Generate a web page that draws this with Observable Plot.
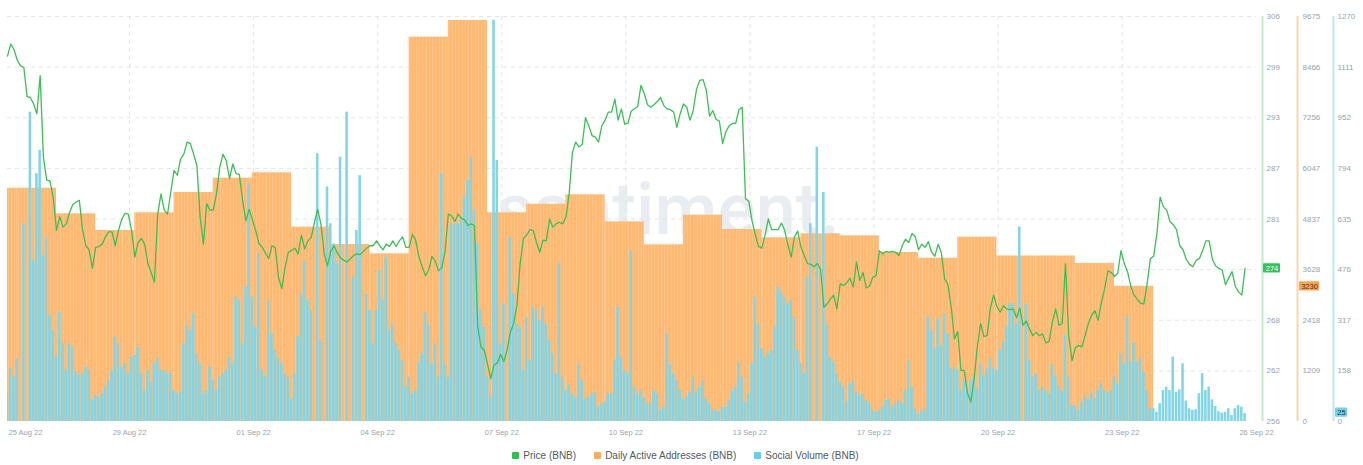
<!DOCTYPE html>
<html><head><meta charset="utf-8">
<script src="https://cdn.jsdelivr.net/npm/d3@7"></script>
<script src="https://cdn.jsdelivr.net/npm/@observablehq/plot@0.6"></script>
<style>
html,body{margin:0;padding:0;background:#fff;}
#wrap{position:relative;width:1363px;height:442px;}
#wrap svg{position:absolute;left:0;top:0;}
#legend{display:flex;justify-content:center;align-items:center;height:20px;padding-top:3px;padding-left:8px;font:10px "Liberation Sans",Arial,sans-serif;color:#4f5964;}
.item{display:flex;align-items:center;margin:0 9px;}
.sw{width:7px;height:7px;border-radius:1px;margin-right:4px;}
</style></head><body>
<div id="wrap"></div>
<div id="legend"></div>
<script>
// ---- data ----
const seriesStart = "2022-08-25T18:00:00Z";   // first 2-hourly sample
const sampleStepHours = 2;
const domainEnd = "2022-09-26T15:00:00Z";

const price = [301.1,302.6,301.9,300.6,299.9,299.7,296.1,296.0,295.2,294.0,298.7,288.6,285.8,285.7,283.7,279.6,281.3,280.0,280.4,281.8,282.8,283.1,283.3,279.6,277.7,277.2,274.9,277.5,277.6,277.9,278.8,279.4,279.4,277.7,279.6,281.0,281.7,281.6,279.6,276.3,278.1,278.6,277.9,275.5,274.4,273.2,281.6,284.1,282.1,281.6,284.3,287.0,286.4,288.4,289.0,290.5,290.3,289.0,287.6,281.2,277.9,282.9,282.1,
282.1,284.1,287.4,289.0,288.2,286.0,287.8,286.6,286.5,283.3,280.8,282.2,280.9,279.6,278.0,277.5,276.8,276.1,277.7,277.5,273.8,272.4,275.0,276.9,277.1,277.4,276.7,279.0,277.3,278.3,278.7,280.6,282.2,280.3,276.7,275.2,277.0,277.7,276.8,276.2,275.9,275.7,276.1,276.5,276.7,276.6,277.0,277.4,277.7,277.7,278.3,277.7,277.2,277.9,277.6,278.3,277.6,278.3,278.8,277.5,277.5,279.1,278.4,
276.3,275.1,274.0,274.7,276.4,275.8,274.6,275.0,277.0,281.6,281.4,280.7,281.6,281.1,280.9,280.2,280.4,280.2,267.7,265.2,264.8,263.1,261.3,263.0,263.2,264.3,263.4,264.8,267.0,268.1,270.3,275.5,278.6,279.0,279.7,279.6,278.1,276.9,278.4,278.3,281.0,280.0,280.4,280.6,280.4,281.2,284.1,289.2,290.5,289.9,290.2,293.5,292.5,291.3,291.1,290.5,292.5,293.2,294.2,294.2,295.8,293.2,
294.6,292.7,292.8,294.3,294.6,294.9,297.5,296.5,295.1,294.8,295.1,295.5,296.0,295.0,294.6,294.5,294.2,292.3,294.0,295.2,294.8,293.2,294.4,297.0,298.1,298.2,296.9,293.7,294.4,293.3,293.1,290.3,291.8,292.5,292.8,292.8,294.5,294.8,283.5,283.2,280.8,279.1,277.6,277.4,279.0,281.0,279.7,279.7,279.7,280.5,279.6,277.8,276.3,278.8,279.5,277.5,276.5,275.5,275.4,275.1,275.5,274.8,270.1,
270.5,271.1,271.6,269.9,273.0,272.8,273.1,273.7,272.6,275.7,273.4,274.4,272.5,272.7,273.8,274.0,277.1,276.7,277.0,276.9,277.0,276.9,276.5,277.7,278.5,278.1,279.2,278.8,277.2,277.9,277.5,278.2,276.9,276.4,277.9,276.8,273.6,272.9,270.2,266.2,267.1,262.3,262.3,259.5,258.4,261.2,265.2,268.1,266.5,266.6,270.0,271.6,270.2,269.5,270.3,269.9,269.8,269.9,268.8,270.0,267.9,268.4,267.4,
266.6,267.0,266.6,266.8,265.7,265.9,268.3,269.9,267.9,268.1,275.5,266.6,263.5,265.1,265.4,265.2,266.6,268.1,269.1,269.7,268.5,270.7,272.4,274.6,274.4,273.9,274.3,277.1,275.5,274.5,272.7,271.6,271.1,270.6,270.5,273.0,276.1,276.4,279.2,283.7,282.5,282.1,280.7,280.3,279.7,277.7,277.2,276.0,275.4,275.1,275.9,276.1,277.1,278.3,278.3,276.0,275.2,274.9,274.7,272.9,273.7,274.5,272.7,272.0,271.6,274.9];

const socialVolume = [87,165,139,197,0,620,0,970,505,777,850,520,578,332,285,202,343,244,160,244,233,155,144,150,170,160,66,82,76,87,108,129,160,265,244,170,181,150,202,207,233,150,97,160,124,181,197,160,160,150,155,97,87,92,244,306,285,338,212,181,87,97,170,
129,97,139,149,160,202,181,390,380,244,422,745,390,296,526,160,139,380,275,223,202,181,150,139,71,150,265,400,505,380,348,0,840,254,0,735,620,557,495,829,0,970,0,453,599,771,0,400,348,244,348,474,380,515,285,306,244,223,191,108,139,87,97,
186,212,343,306,181,244,139,777,181,139,620,620,620,636,704,756,829,662,557,348,296,139,76,1258,819,244,369,0,578,400,306,296,160,327,191,359,348,317,359,306,254,212,150,495,139,97,118,87,76,181,129,71,76,87,92,45,56,61,87,87,191,359,
202,160,150,536,108,87,97,76,56,56,97,87,35,45,275,181,150,129,97,71,76,92,139,92,108,129,71,56,35,35,29,45,45,66,97,108,186,139,61,87,181,390,306,228,202,212,223,296,421,406,390,369,380,327,223,181,150,453,620,0,860,0,718,
306,202,186,150,123,108,61,118,129,92,82,87,66,56,35,29,35,45,66,71,45,56,66,56,97,193,108,40,22,32,37,327,285,228,322,238,338,275,165,170,160,97,129,97,129,139,102,181,144,165,197,165,160,223,249,296,369,369,306,610,0,369,191,
139,150,97,108,97,87,179,143,110,95,270,139,50,50,35,61,82,68,89,71,99,120,99,89,97,141,118,212,181,330,186,246,186,197,155,97,40,40,29,56,97,108,97,202,92,99,181,64,40,35,37,87,150,97,108,68,47,31,26,29,40,19,40,50,45,25];

const daaDays = ["2022-08-25","2022-08-26","2022-08-27","2022-08-28","2022-08-29","2022-08-30","2022-08-31","2022-09-01","2022-09-02","2022-09-03","2022-09-04","2022-09-05","2022-09-06","2022-09-07","2022-09-08","2022-09-09","2022-09-10","2022-09-11","2022-09-12","2022-09-13","2022-09-14","2022-09-15","2022-09-16","2022-09-17","2022-09-18","2022-09-19","2022-09-20","2022-09-21","2022-09-22","2022-09-23"];
const daaValues = [5573,5573,4962,4563,4986,5471,5813,5941,4642,4229,4006,9181,9580,4986,5191,5416,4770,4221,4929,4587,4389,4484,4436,4037,3901,4403,3954,3954,3775,3230];

const xTickDates = ["2022-08-26T05:00Z","2022-08-28T20:45Z","2022-09-01T00:45Z","2022-09-04T04:45Z","2022-09-07T08:45Z","2022-09-10T12:45Z","2022-09-13T16:45Z","2022-09-16T20:45Z","2022-09-20T00:45Z","2022-09-23T04:45Z","2022-09-26T15:00Z"];
const xTickLabels = ["25 Aug 22","29 Aug 22","01 Sep 22","04 Sep 22","07 Sep 22","10 Sep 22","13 Sep 22","17 Sep 22","20 Sep 22","23 Sep 22","26 Sep 22"];

const priceTicks = [256,262.25,268.5,274.75,281,287.25,293.5,299.75,306];
const priceTickLabels = ["256","262","268","274","281","287","293","299","306"];
const daaTicks = [0,1209.375,2418.75,3628.125,4837.5,6046.875,7256.25,8465.625,9675];
const daaTickLabels = ["0","1209","2418","3628","4837","6047","7256","8466","9675"];
const socialTicks = [0,158.75,317.5,476.25,635,793.75,952.5,1111.25,1270];
const socialTickLabels = ["0","158","317","476","635","794","952","1111","1270"];

const seriesNames = ["Price (BNB)","Daily Active Addresses (BNB)","Social Volume (BNB)"];

// ---- build ----
const HOUR = 3600e3;
const t0 = new Date(seriesStart);
const tEnd = new Date(domainEnd);
const priceData = price.map((v,i)=>({date:new Date(+t0 + i*sampleStepHours*HOUR), value:v}));
const socialData = socialVolume.map((v,i)=>({date:new Date(+t0 + i*sampleStepHours*HOUR), value:v}));
const daaData = daaDays.map((d,i)=>{const s=new Date(d+"T00:00:00Z");return {start:s,end:new Date(+s+24*HOUR),value:daaValues[i]};});
const xTicks = xTickDates.map(d=>new Date(d));
const xLabelMap = new Map(xTicks.map((d,i)=>[+d, xTickLabels[i]]));
const mapOf = (t,l)=>new Map(t.map((v,i)=>[v,l[i]]));
const priceLab = mapOf(priceTicks, priceTickLabels), daaLab = mapOf(daaTicks, daaTickLabels), socLab = mapOf(socialTicks, socialTickLabels);

const C = {green:"#3cbf56", orange:"#ffb870", orangeLight:"#ffc995", blue:"#80d6e8",
  grid:"#e1e5ea", tick:"#98a3ae", gAxis:"#c4ecca", oAxis:"#fdd3aa", bAxis:"#bde8f2"};
const font = "'Liberation Sans', Arial, sans-serif";
const common = {width:1363, height:442, marginLeft:7, marginRight:107, marginTop:16, marginBottom:21,
  style:{background:"transparent", fontFamily:font, fontSize:"8px", overflow:"visible"}};
const xScale = {type:"utc", domain:[t0, tEnd]};
const atEnd = () => tEnd;
const badge = (datum, dx, w, fill, textFill, label, dy=0) => [
  Plot.rect([datum], {x1:atEnd, x2:atEnd, y1:d=>d.value, y2:d=>d.value, insetLeft:-w/2, insetRight:-w/2, insetTop:-4.6, insetBottom:-4.6, dx, dy, fill, rx:1}),
  Plot.text([datum], {x:atEnd, y:d=>d.value, text:label, dx, dy, fill:textFill, fontSize:7.5})
];

const lastP = priceData[priceData.length-1];
const lastD = daaData[daaData.length-1];
const lastS = socialData[socialData.length-1];

// layer 1: grid + daily active addresses
const svg1 = Plot.plot({...common,
  x:{...xScale, axis:null},
  y:{domain:[0,9675], axis:null},
  marks:[
    Plot.text(["santiment."], {text:d=>d, frameAnchor:"middle", dx:36, dy:-8, fontSize:72, fontWeight:500, fontFamily:"Roboto", fill:"#e9edf1"}),
    Plot.ruleY(daaTicks.slice(1), {stroke:C.grid, strokeDasharray:"4,4"}),
    Plot.ruleX(xTicks.slice(1,-1), {stroke:C.grid, strokeDasharray:"4,4"}),
    Plot.rect(daaData, {x1:"start", x2:"end", y1:0, y2:"value", fill:"url(#daaStripes)", clip:true}),
    Plot.ruleX([tEnd], {dx:41, stroke:C.oAxis, strokeWidth:2}),
    Plot.axisY(daaTicks, {anchor:"right", label:null, tickSize:0, tickPadding:46, tickFormat:d=>daaLab.get(d), color:C.tick, fontSize:8}),
    ...badge(lastD, 53, 20, "#f7a452", "#4a3420", d=>String(d.value))
  ]});
// stripe pattern for the daily bars (2-hour rhythm like the reference)
{
  const xs = svg1.scale("x");
  const step = xs.apply(new Date(+t0 + 2*HOUR)) - xs.apply(t0);
  const defs = d3.select(svg1).insert("defs", ":first-child");
  const pat = defs.append("pattern").attr("id","daaStripes").attr("patternUnits","userSpaceOnUse")
    .attr("x", xs.apply(t0) - step/2).attr("y",0).attr("width",step).attr("height",20);
  pat.append("rect").attr("width",step).attr("height",20).attr("fill",C.orange);
  pat.append("rect").attr("x",step-0.7).attr("width",0.7).attr("height",20).attr("fill",C.orangeLight);
}

// layer 2: social volume
const svg2 = Plot.plot({...common,
  x:{...xScale, axis:null},
  y:{domain:[0,1270], axis:null},
  marks:[
    Plot.rect(socialData, {x1:d=>new Date(+d.date - HOUR), x2:d=>new Date(+d.date + HOUR), y1:0, y2:"value", fill:C.blue, insetLeft:0.35, insetRight:0.35, clip:true}),
    Plot.ruleX([tEnd], {dx:77, stroke:C.bAxis, strokeWidth:2}),
    Plot.axisY(socialTicks, {anchor:"right", label:null, tickSize:0, tickPadding:81, tickFormat:d=>socLab.get(d), color:C.tick, fontSize:8}),
    ...badge(lastS, 85, 12, "#6fd2e6", "#1f3440", d=>String(d.value), -1)
  ]});

// layer 3: price + x axis
const svg3 = Plot.plot({...common,
  x:{...xScale, axis:null},
  y:{domain:[256,306], axis:null},
  marks:[
    Plot.line(priceData, {x:"date", y:"value", stroke:C.green, strokeWidth:1.3}),
    Plot.ruleX([tEnd], {dx:6, stroke:C.gAxis, strokeWidth:2}),
    Plot.axisY(priceTicks, {anchor:"right", label:null, tickSize:0, tickPadding:10, tickFormat:d=>priceLab.get(d), color:C.tick, fontSize:8}),
    Plot.axisX(xTicks, {anchor:"bottom", label:null, tickSize:0, tickPadding:8, tickFormat:d=>xLabelMap.get(+d), color:C.tick, fontSize:7.5}),
    ...badge(lastP, 15.5, 17, "#36c159", "#ffffff", d=>String(Math.floor(d.value)))
  ]});

const wrap = document.getElementById("wrap");
wrap.append(svg1, svg2, svg3);

// legend
const legend = document.getElementById("legend");
[["#2fc152",seriesNames[0]],["#ffad5c",seriesNames[1]],["#62d2ea",seriesNames[2]]].forEach(([c,n])=>{
  const it = document.createElement("div"); it.className="item";
  const sw = document.createElement("span"); sw.className="sw"; sw.style.background=c;
  const tx = document.createElement("span"); tx.textContent=n;
  it.append(sw,tx); legend.append(it);
});
</script>
</body></html>
